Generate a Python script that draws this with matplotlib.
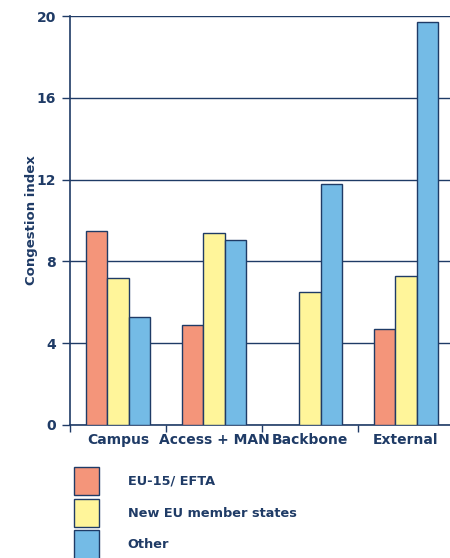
import numpy as np
import matplotlib.pyplot as plt

categorias = ['Campus', 'Access + MAN', 'Backbone', 'External']
series = ['EU-15/ EFTA', 'New EU member states', 'Other']
eu15 = [9.5, 4.9, 0, 4.7]
novos = [7.2, 9.4, 6.5, 7.3]
outros = [5.3, 9.05, 11.8, 19.7]
cores = ['#F4957A', '#FFF59A', '#74BBE6']

azul = '#1F3B66'
plt.rcParams['font.family'] = ['DejaVu Sans']
plt.rcParams['font.weight'] = 'bold'

fig = plt.figure(figsize=(4.5, 5.58), dpi=100)
ax = fig.add_axes([70/450, 133/558, 380/450, 409/558])

x = np.arange(len(categorias))
w = 0.224
barras = []
for i, (vals, cor) in enumerate(zip([eu15, novos, outros], cores)):
    b = ax.bar(x + (i - 1) * w, vals, w, color=cor, edgecolor=azul, linewidth=1, zorder=3, label=series[i])
    for r, v in zip(b, vals):
        if v == 0:
            r.set_visible(False)  # sem valor
    barras.append(b)

ax.set_ylim(0, 20)
ax.set_xlim(-0.5, 3.46)
ax.set_yticks([0, 4, 8, 12, 16, 20])
ax.yaxis.grid(True, color=azul, linewidth=1, zorder=0)
ax.set_xticks(x)
ax.set_xticklabels(categorias)
ax.set_xticks(np.arange(-0.5, 3.5, 1), minor=True)
ax.tick_params(axis='x', which='major', length=0, pad=6, labelsize=10, labelcolor=azul)
ax.tick_params(axis='x', which='minor', length=5, color=azul, width=1)
ax.tick_params(axis='y', length=6, color=azul, width=1, labelsize=10, labelcolor=azul, pad=4)
for s in ['top', 'right']:
    ax.spines[s].set_visible(False)
for s in ['left', 'bottom']:
    ax.spines[s].set_color(azul)
    ax.spines[s].set_linewidth(1.2)
ax.set_ylabel('Congestion index', fontsize=9.5, color=azul, fontweight='bold', labelpad=-1)

fig.legend(handles=barras, labels=series, loc='upper left', bbox_to_anchor=(74/450, 1 - 467/558),
           frameon=False, fontsize=9.3, handlelength=1.95, handleheight=3.0, labelspacing=0.25,
           handletextpad=2.2, borderpad=0, borderaxespad=0, labelcolor=azul)

fig.savefig('out.png', dpi=100)
